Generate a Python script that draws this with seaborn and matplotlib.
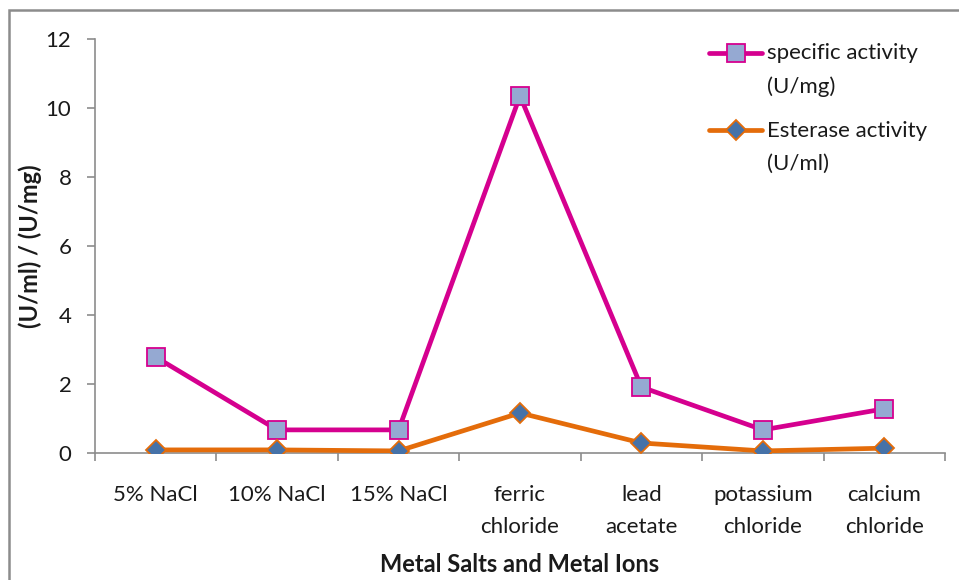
import matplotlib
matplotlib.use("Agg")
import matplotlib.pyplot as plt
import matplotlib.patches as mpatches
from matplotlib.ticker import FixedLocator, NullFormatter
import seaborn as sns
import pandas as pd
import numpy as np

categories = ["5% NaCl", "10% NaCl", "15% NaCl", "ferric\nchloride",
              "lead\nacetate", "potassium\nchloride", "calcium\nchloride"]
specific_activity = [2.78, 0.67, 0.67, 10.35, 1.91, 0.67, 1.28]
esterase_activity = [0.09, 0.09, 0.06, 1.16, 0.29, 0.06, 0.14]
y_ticks = [0, 2, 4, 6, 8, 10, 12]

sns.set_theme(style="white")
plt.rcParams["font.family"] = ["Lato", "DejaVu Sans"]

fig = plt.figure(figsize=(9.59, 5.8), dpi=100)
ax = fig.add_axes([95 / 959, 1 - 453 / 580, 850 / 959, (453 - 39) / 580])

pos = list(range(len(categories)))
df = pd.DataFrame({"pos": pos, "spec": specific_activity, "est": esterase_activity})

magenta = "#D5008F"
orange = "#E46C0A"
text_color = "#1a1a1a"
tick_fs = 16

sns.lineplot(data=df, x="pos", y="spec", ax=ax, color=magenta, linewidth=3.4,
             marker="s", markersize=12.5, markerfacecolor="#95A9D2",
             markeredgecolor=magenta, markeredgewidth=1.3,
             label="specific activity\n(U/mg)", zorder=3)
sns.lineplot(data=df, x="pos", y="est", ax=ax, color=orange, linewidth=3.4,
             marker="D", markersize=10, markerfacecolor="#4672A8",
             markeredgecolor=orange, markeredgewidth=1.3,
             label="Esterase activity\n(U/ml)", zorder=4)

ax.set_xlim(-0.5, len(categories) - 0.5)
ax.set_ylim(0, 12)

# category boundaries get tick marks; labels sit at the category centres
ax.xaxis.set_major_locator(FixedLocator([i - 0.5 for i in range(len(categories) + 1)]))
ax.xaxis.set_major_formatter(NullFormatter())
ax.xaxis.set_minor_locator(FixedLocator(pos))
ax.set_xticklabels(categories, minor=True, fontsize=tick_fs, color=text_color,
                   linespacing=1.75)
ax.tick_params(axis="x", which="major", direction="out", length=6, width=1.2,
               color="#8c8c8c", bottom=True)
ax.tick_params(axis="x", which="minor", length=0, pad=23, bottom=True)
for t in ax.xaxis.get_minorticklabels():
    t.set_verticalalignment("top")

ax.set_yticks(y_ticks)
ax.set_yticklabels([str(v) for v in y_ticks], fontsize=tick_fs, color=text_color)
ax.tick_params(axis="y", direction="out", length=6, width=1.2, color="#8c8c8c",
               left=True, pad=11)

for side in ["top", "right"]:
    ax.spines[side].set_visible(False)
for side in ["left", "bottom"]:
    ax.spines[side].set_color("#8c8c8c")
    ax.spines[side].set_linewidth(1.2)

ax.set_xlabel("Metal Salts and Metal Ions", fontsize=17, fontweight="bold",
              color=text_color, va="center")
ax.xaxis.set_label_coords(0.5, -(565 - 453) / 414)
ax.set_ylabel("(U/ml) / (U/mg)", fontsize=17, fontweight="bold", color=text_color)
ax.yaxis.set_label_coords(-0.062, 0.5)

leg = ax.legend(loc="upper left", bbox_to_anchor=(700 / 959, 1 - 34 / 580),
                bbox_transform=fig.transFigure, frameon=False, fontsize=tick_fs,
                handlelength=2.4, handletextpad=0.2, labelspacing=1.1,
                borderaxespad=0)
for txt in leg.get_texts():
    txt.set_linespacing(1.8)
    txt.set_color(text_color)
# line the legend keys up with the first line of each two-line label
for h in leg.legend_handles:
    h.set_ydata(np.asarray(h.get_ydata()) + 12.5)

# outer chart frame
frame = mpatches.Rectangle((9 / 959, -0.05), 1.1, 1 - 10 / 580 + 0.05,
                           transform=fig.transFigure, fill=False,
                           edgecolor="#8c8c8c", linewidth=1.8, clip_on=False)
fig.patches.append(frame)

fig.savefig("out.png", dpi=100)
